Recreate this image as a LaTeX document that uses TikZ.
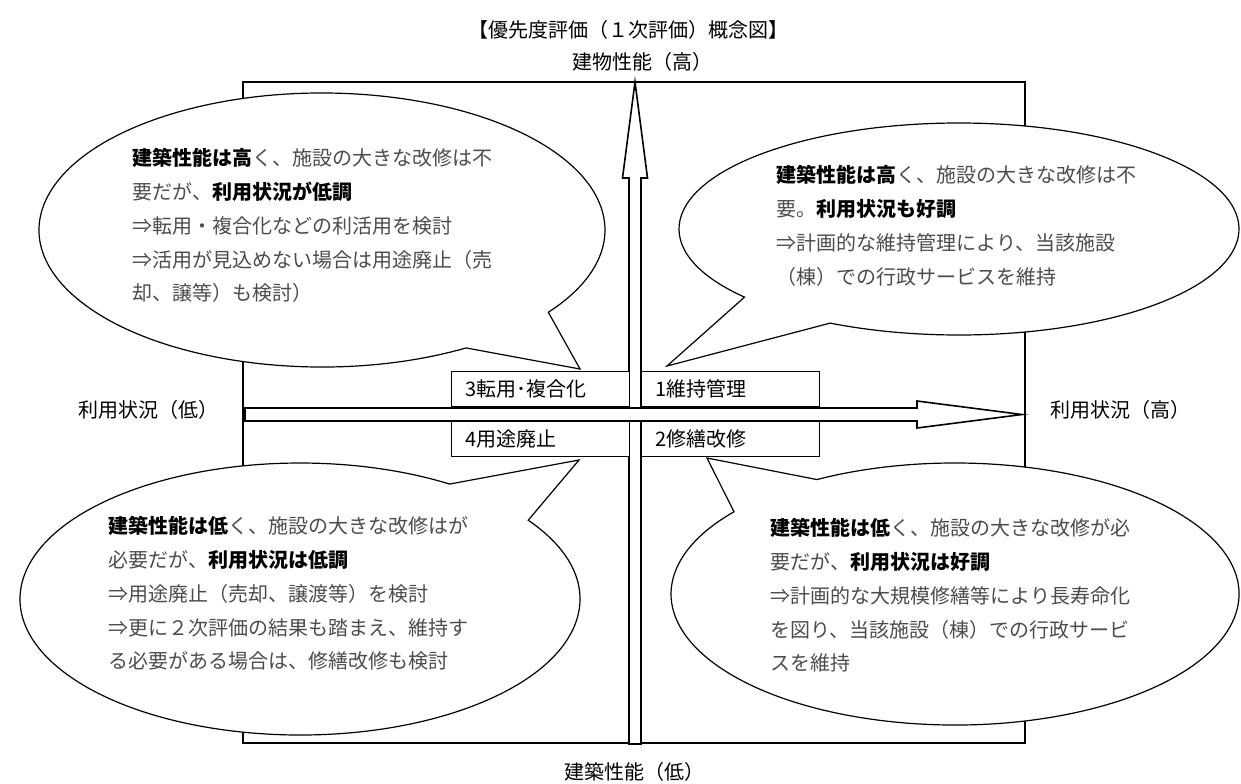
\documentclass[tikz,border=0pt]{standalone}
\usepackage{fontspec}
\setmainfont{Noto Sans CJK JP}
\usetikzlibrary{calc}
\definecolor{txtgray}{gray}{0.3}
\newcommand\strongtxt[1]{\textcolor{black}{\bfseries #1}}

\begin{document}
\begin{tikzpicture}[x=0.5pt, y=-0.5pt,
  lbl/.style={font=\fontsize{10}{12}\selectfont},
  frame/.style={draw, line width=0.7pt},
  axisarrow/.style={draw, fill=white, line width=0.8pt, line join=miter},
  quad/.style={draw, fill=white, line width=0.7pt, minimum width=89pt, minimum height=17.5pt,
    text width=75pt, inner xsep=7pt, inner ysep=0pt, align=left, anchor=north west,
    font=\fontsize{10}{12}\selectfont},
  bubble/.style={draw, fill=white, line width=0.6pt, line join=miter},
  note/.style={anchor=north west, align=left, inner sep=0pt, text=txtgray,
    font=\fontsize{10}{16.9}\selectfont}]
  \useasboundingbox (0,0) rectangle (1241,783);

  \node[lbl] (title) at (628,30) {【優先度評価（１次評価）概念図】};
  \node[lbl] (yhigh) at (642,62) {建物性能（高）};
  \node[lbl] (ylow) at (634,772) {建築性能（低）};
  \node[lbl] (xlow) at (148,410) {利用状況（低）};
  \node[lbl] (xhigh) at (1120,410) {利用状況（高）};

  % frame and the two axes
  \draw[frame] (243,82) rectangle (1025,743);
  \draw[axisarrow] (629,744) -- (629,178) -- (622.5,178) -- (635,82) -- (647.5,178) -- (641,178) -- (641,744) -- cycle;
  \draw[axisarrow] (245,408) -- (917,408) -- (917,401) -- (1022,414.5) -- (917,428) -- (917,421) -- (245,421) -- cycle;

  % quadrant labels
  \node[quad] (box3) at (451,371) {3転用･複合化};
  \node[quad] (box1) at (641,371) {1維持管理};
  \node[quad] (box4) at (451,421) {4用途廃止};
  \node[quad] (box2) at (641,421) {2修繕改修};

  % bubbles: centre, tip
  \coordinate (c3) at (322,230);   \coordinate (tip3) at (580,369);
  \coordinate (c1) at (959,229);   \coordinate (tip1) at (667,366);
  \coordinate (c4) at (300,599);   \coordinate (tip4) at (579,460);
  \coordinate (c2) at (955,594);   \coordinate (tip2) at (707,458);

  \draw[bubble] ($(c3)+(59.4:283 and 137)$) arc[start angle=59.4, end angle=396.9, x radius=283, y radius=137] -- (tip3) -- cycle;
  \draw[bubble] ($(c1)+(140:280 and 106)$) arc[start angle=140, end angle=477.4, x radius=280, y radius=106] -- (tip1) -- cycle;
  \draw[bubble] ($(c4)+(-35.4:280 and 136)$) arc[start angle=-35.4, end angle=302.3, x radius=280, y radius=136] -- (tip4) -- cycle;
  \draw[bubble] ($(c2)+(240.9:284 and 131)$) arc[start angle=240.9, end angle=578.9, x radius=284, y radius=131] -- (tip2) -- cycle;

  \node[note] (txt3) at (132,148) {\strongtxt{建築性能は高}く、施設の大きな改修は不\\
    要だが、\strongtxt{利用状況が低調}\\
    ⇒転用・複合化などの利活用を検討\\
    ⇒活用が見込めない場合は用途廃止（売\\
    却、譲等）も検討）};
  \node[note] (txt1) at (776,165) {\strongtxt{建築性能は高}く、施設の大きな改修は不\\
    要。\strongtxt{利用状況も好調}\\
    ⇒計画的な維持管理により、当該施設\\
    （棟）での行政サービスを維持};
  \node[note] (txt4) at (108,516) {\strongtxt{建築性能は低}く、施設の大きな改修はが\\
    必要だが、\strongtxt{利用状況は低調}\\
    ⇒用途廃止（売却、譲渡等）を検討\\
    ⇒更に２次評価の結果も踏まえ、維持す\\
    る必要がある場合は、修繕改修も検討};
  \node[note] (txt2) at (770,518) {\strongtxt{建築性能は低}く、施設の大きな改修が必\\
    要だが、\strongtxt{利用状況は好調}\\
    ⇒計画的な大規模修繕等により長寿命化\\
    を図り、当該施設（棟）での行政サービ\\
    スを維持};
\end{tikzpicture}
\end{document}
